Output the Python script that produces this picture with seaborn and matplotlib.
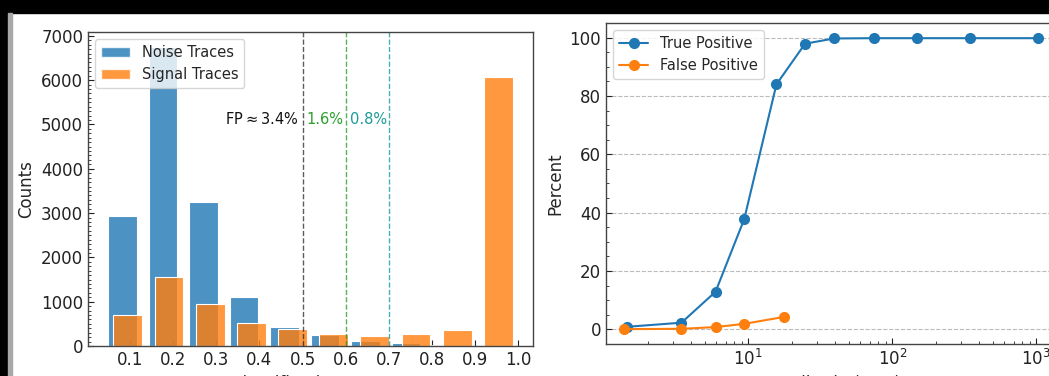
import numpy as np
import pandas as pd
import matplotlib
matplotlib.use("Agg")
import matplotlib.pyplot as plt
from matplotlib.patches import Patch, Rectangle
from matplotlib.ticker import MultipleLocator
import seaborn as sns

# Classifier score histograms (10 bins per class over each class's score range)
noise_counts = [2930, 6750, 3260, 1095, 430, 240, 115, 70, 20, 3]
signal_counts = [705, 1555, 950, 515, 380, 280, 225, 265, 355, 6080]
noise_score_range = (0.035, 0.975)
signal_score_range = (0.047, 1.002)

# Thresholds and the false-positive rates they give
thresholds = [0.5, 0.6, 0.7]
fp_labels = ["FP$\\approx$3.4%", "1.6%", "0.8%"]

# Detection efficiency versus amplitude
tp_amp = [1.45, 3.44, 5.93, 9.38, 15.7, 24.8, 39.5, 74.6, 147.6, 346.6, 1020]
tp_pct = [0.9, 2.3, 12.9, 37.8, 84.0, 97.9, 99.7, 99.8, 99.8, 99.8, 99.8]
fp_amp = [1.38, 3.44, 5.93, 9.38, 17.8]
fp_pct = [0.1, 0.2, 0.8, 1.9, 4.3]

sns.set_style("white")
plt.rcParams.update({
    "font.family": ["DejaVu Sans"],
    "font.size": 12,
    "axes.edgecolor": "#444444",
    "axes.linewidth": 1.0,
    "xtick.direction": "in",
    "ytick.direction": "in",
    "xtick.bottom": True,
    "ytick.left": True,
    "xtick.major.size": 4.5,
    "ytick.major.size": 4.5,
    "xtick.minor.size": 2.5,
    "ytick.minor.size": 2.5,
    "xtick.color": "#222222",
    "ytick.color": "#222222",
    "legend.fontsize": 10.5,
})

W, H = 1049, 376
fig = plt.figure(figsize=(W / 100, H / 100), dpi=100)
fig.patch.set_facecolor("white")

ax1 = fig.add_axes([88 / W, 1 - 346 / H, 445 / W, 314 / H])
ax2 = fig.add_axes([606 / W, 1 - 344 / H, 452 / W, 321 / H])

blue, orange = "#1f77b4", "#ff7f0e"

# Left: score histograms
for counts, rng, col in [(noise_counts, noise_score_range, blue),
                         (signal_counts, signal_score_range, orange)]:
    edges = np.linspace(rng[0], rng[1], len(counts) + 1)
    hist_df = pd.DataFrame({"score": 0.5 * (edges[:-1] + edges[1:]),
                            "count": counts})
    sns.histplot(data=hist_df, x="score", weights="count",
                 bins=list(edges), shrink=0.7,
                 color=col, alpha=0.8, edgecolor="white", linewidth=0.8,
                 ax=ax1)

line_cols = ["#333333", "#2ca02c", "#1a9a9a"]
for thr, col in zip(thresholds, line_cols):
    ax1.axvline(thr, color=col, ls="--", lw=1.0, alpha=0.8)

ax1.text(thresholds[0] - 0.01, 5000, fp_labels[0], ha="right", fontsize=10.5,
         color="#111111")
ax1.text(thresholds[0] + 0.01, 5000, fp_labels[1], ha="left", fontsize=10.5,
         color=line_cols[1])
ax1.text(thresholds[1] + 0.01, 5000, fp_labels[2], ha="left", fontsize=10.5,
         color=line_cols[2])

ax1.set_xticks(np.round(np.arange(0.1, 1.01, 0.1), 1))
ax1.yaxis.set_minor_locator(MultipleLocator(100))
ax1.set_ylabel("Counts")
ax1.set_xlabel("Classification score", labelpad=4.5)
ax1.legend(handles=[Patch(facecolor=blue, alpha=0.8, label="Noise Traces"),
                    Patch(facecolor=orange, alpha=0.8, label="Signal Traces")],
           loc="upper left")

# Right: true/false positive rates vs amplitude
sns.lineplot(x=tp_amp, y=tp_pct, marker="o", color=blue, lw=1.5,
             markersize=7, markeredgecolor=blue, markeredgewidth=1,
             label="True Positive", ax=ax2)
sns.lineplot(x=fp_amp, y=fp_pct, marker="o", color=orange, lw=1.5,
             markersize=7, markeredgecolor=orange, markeredgewidth=1,
             label="False Positive", ax=ax2)
ax2.set_xscale("log")
ax2.set_xlim(1.03, 10 ** 3.15)
ax2.set_ylim(-5, 105)
ax2.set_yticks([0, 20, 40, 60, 80, 100])
ax2.yaxis.set_minor_locator(MultipleLocator(5))
ax2.grid(axis="y", which="major", ls="--", color="#bbbbbb", lw=0.8)
ax2.set_axisbelow(True)
ax2.set_ylabel("Percent")
ax2.set_xlabel("Amplitude (SNR)", labelpad=4.5)
ax2.legend(loc="upper left")

for ax in (ax1, ax2):
    ax.tick_params(which="both", top=False, right=False)
    ax.tick_params(axis="both", which="major", labelsize=12)

# Dark frame along the top and left edges
fig.patches.append(Rectangle((0, 1 - 12.5 / H), 1, 12.5 / H,
                             transform=fig.transFigure, color="black",
                             zorder=10))
fig.patches.append(Rectangle((0, 0), 7.5 / W, 1, transform=fig.transFigure,
                             color="black", zorder=10))
fig.patches.append(Rectangle((7.5 / W, 0), 4.5 / W, 1 - 12.5 / H,
                             transform=fig.transFigure, color="#a8a8a8",
                             zorder=10))

fig.savefig("out.png", dpi=100)
